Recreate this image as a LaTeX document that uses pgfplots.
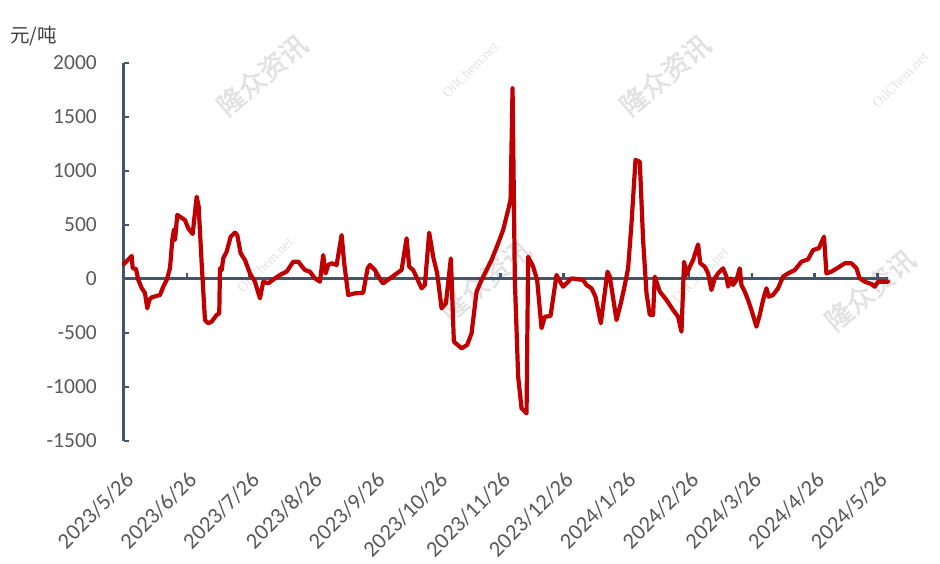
\documentclass[border=0pt]{standalone}
\usepackage{fontspec}
\setmainfont{Carlito}
\newfontfamily\cjk{Noto Sans CJK SC}
\newfontfamily\cjkb[FakeBold=2]{Noto Sans CJK SC}
\newfontfamily\wmserif{Liberation Serif}
\usepackage{pgfplots}
\pgfplotsset{compat=1.18}
\definecolor{axc}{HTML}{44546A}
\definecolor{linered}{HTML}{C00000}
\definecolor{tickgray}{HTML}{595959}
\definecolor{wm}{HTML}{E2E2E2}
\begin{document}
\begin{tikzpicture}
\path[use as bounding box] (-124pt,-123pt) rectangle (816pt,441pt);
% watermarks (inside the plot area only)
\begin{scope}[every node/.style={text=wm, inner sep=0pt}]
\foreach \wx/\wy in {138/366, 361/161, 541/366, 746/151}
  \node[rotate=40, font=\cjkb\fontsize{27}{30}\selectfont] at (\wx pt,\wy pt) {隆众资讯};
\foreach \wx/\wy in {141/176, 346/371, 576/166, 776/361}
  \node[rotate=45, font=\wmserif\fontsize{14}{16}\selectfont] at (\wx pt,\wy pt) {OilChem.net};
\end{scope}
\begin{axis}[
  at={(0,0)}, anchor=south west,
  scale only axis, width=764pt, height=378pt,
  xmin=0, xmax=764.3, ymin=-1500, ymax=2000,
  axis x line*=bottom, axis y line*=left,
  x axis line style={draw=none},
  y axis line style={draw=axc, line width=3pt, -},
  xtick={0,62.8,125.6,188.4,251.2,314,376.8,439.6,502.4,565.2,628,690.8,753.6},
  xticklabels={2023/5/26,2023/6/26,2023/7/26,2023/8/26,2023/9/26,2023/10/26,2023/11/26,2023/12/26,2024/1/26,2024/2/26,2024/3/26,2024/4/26,2024/5/26},
  x tick style={draw=none},
  ytick={-1500,-1000,-500,0,500,1000,1500,2000},
  yticklabels={-1500,-1000,-500,0,500,1000,1500,2000},
  y tick style={draw=axc, line width=2.5pt},
  tick align=inside, major tick length=5pt,
  ticklabel style={text=tickgray, inner sep=0pt},
  xticklabel style={rotate=45, anchor=north east, font=\fontsize{22.5}{25}\selectfont},
  xticklabel shift=29pt,
  yticklabel style={anchor=east, font=\fontsize{21.5}{24}\selectfont},
  yticklabel shift=27pt,
  clip=false,
]
\draw[axc, line width=3pt] (axis cs:0,0) -- (axis cs:764.3,0);
\pgfplotsinvokeforeach{62.8,125.6,188.4,251.2,314,376.8,439.6,502.4,565.2,628,690.8,753.6}{
  \draw[axc, line width=2.5pt] (axis cs:#1,0) -- ++(0pt,5.5pt);
}
\addplot[linered, line width=4.2pt, line join=round, line cap=round, mark=none] coordinates {
(0,139) (7.7,213) (8.7,99) (12,93) (14.3,-9) (17.7,-83) (21,-130) (23.3,-272)
(25.3,-194) (27.7,-170) (36,-148) (39.3,-71) (42.7,-9) (46,99) (48.3,361) (50,460)
(51,361) (53.3,593) (61,546) (64.3,469) (68.7,417) (72.7,762) (74.7,669) (77.7,145)
(81,-380) (84.3,-410) (87.7,-395) (92.7,-333) (95.3,-318) (96,99) (97.7,83) (99.3,191)
(102.7,253) (106.7,392) (111,429) (113.3,407) (116.7,238) (121,176) (126,52) (131,-25)
(136,-179) (139.3,-25) (144.3,-40) (151,6) (156,37) (162.7,68) (169.3,160) (174.3,160)
(181,83) (186,68) (191,6) (196,-25) (199.3,222) (201.7,52) (204.3,130) (207.7,145)
(212.7,130) (217.7,407) (220.3,145) (224.3,-148) (231,-133) (239.3,-127) (243.7,99) (246,130)
(251,83) (257.7,-25) (259.3,-40) (266,6) (277.7,83) (282.7,377) (285.3,114) (289.3,83)
(297.7,-86) (301,-56) (305.3,429) (309.3,206) (313.3,52) (317.7,-272) (322,-225) (327,191)
(330,-580) (337.7,-642) (343.3,-611) (347.7,-503) (352.7,-117) (357.7,-9) (362.7,83) (367.7,176)
(374.3,330) (379.3,454) (384.3,639) (386.7,732) (388.7,1766) (391,-9) (394.3,-904) (397.7,-1197)
(402.7,-1244) (404.3,206) (409.3,114) (413.3,-9) (417.7,-456) (421,-349) (426.7,-343) (432.7,37)
(435.3,-9) (439.3,-71) (442.7,-40) (447.7,6) (459.3,-9) (462.7,-56) (467.7,-86) (471.7,-164)
(477,-410) (483.7,68) (486,22) (492.7,-380) (497,-225) (501,-56) (504.3,99) (507.7,515)
(511.7,1102) (516,1086) (519.3,361) (522.7,-133) (526,-333) (529.3,-333) (531,22) (536,-117)
(542.7,-194) (549.3,-287) (554.3,-349) (557.7,-488) (560.3,160) (562.7,37) (566,114) (569.3,176)
(574.3,320) (576.5,145) (581,114) (584.3,52) (587.7,-102) (591,6) (594.3,52) (599.3,99)
(602.7,22) (604.3,-71) (607,6) (609.3,-56) (612.7,-9) (616,99) (617.7,-56) (621,-117)
(624.3,-194) (627.7,-287) (632.7,-441) (636,-333) (639.3,-194) (642.7,-86) (645,-164) (649.3,-148)
(654.3,-86) (659.3,22) (664.3,52) (671,83) (677.7,160) (684.3,182) (689.3,268) (695,284)
(700.3,392) (702.7,52) (707.7,68) (714.3,105) (721,145) (727.7,145) (732.7,99) (736,6)
(741,-25) (747.7,-46) (751,-71) (754.3,-25) (761,-25) (764.3,-25)
};
\end{axis}
\node[anchor=west, inner sep=0pt, text=black!75, font=\cjk\fontsize{19.5}{22}\selectfont] at (-114pt,405pt) {元/吨};
\end{tikzpicture}
\end{document}
